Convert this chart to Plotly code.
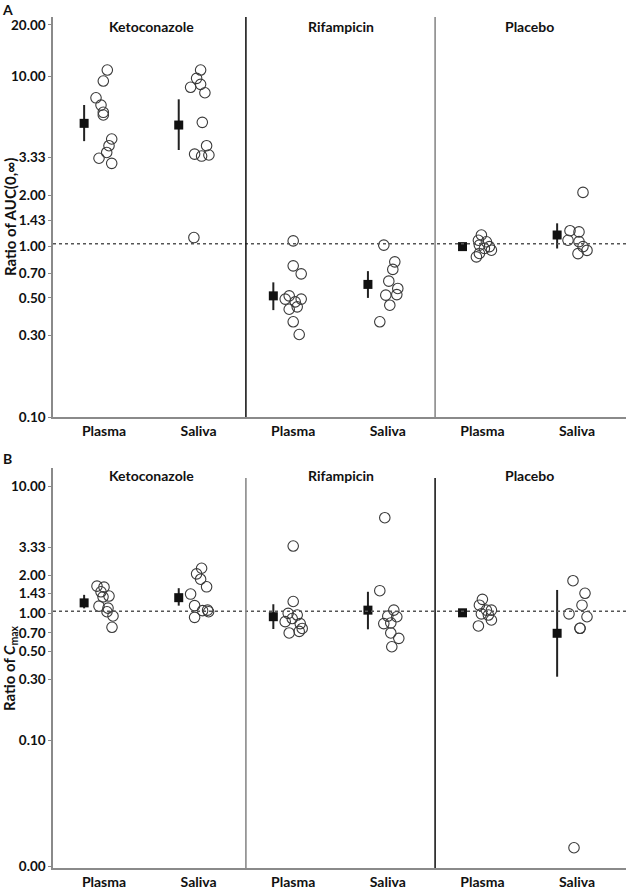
import plotly.graph_objects as go

# ---------------- data ----------------
groups = ["Ketoconazole", "Rifampicin", "Placebo"]
x_labels = ["Plasma", "Saliva", "Plasma", "Saliva", "Plasma", "Saliva"]

y_ticks_A = [0.10, 0.30, 0.50, 0.70, 1.00, 1.43, 2.00, 3.33, 10.00, 20.00]
y_ticks_B = [0.01, 0.10, 0.30, 0.50, 0.70, 1.00, 1.43, 2.00, 3.33, 10.00]
y_ticktext_B = ["0.00", "0.10", "0.30", "0.50", "0.70", "1.00", "1.43", "2.00", "3.33", "10.00"]

# Panel A: individual ratios of AUC(0,inf)
auc_keto_plasma = [10.87, 9.37, 7.47, 6.77, 6.14, 5.92, 4.28, 3.91, 3.57, 3.30, 3.08]
auc_keto_saliva = [10.87, 9.72, 8.96, 8.61, 8.0, 5.36, 3.91, 3.49, 3.40, 3.45, 1.13]
auc_rif_plasma = [1.08, 0.771, 0.692, 0.514, 0.492, 0.492, 0.474, 0.443, 0.429, 0.362, 0.305]
auc_rif_saliva = [1.02, 0.814, 0.735, 0.627, 0.568, 0.519, 0.523, 0.453, 0.362]
auc_plac_plasma = [1.17, 1.09, 1.067, 1.02, 1.0, 0.975, 0.953, 0.912, 0.87]
auc_plac_saliva = [2.08, 1.24, 1.22, 1.09, 1.07, 1.0, 0.95, 0.91]

# Panel A: geometric mean and 90% CI
auc_gm = [5.29, 5.17, 0.514, 0.60, 1.00, 1.17]
auc_lo = [4.16, 3.69, 0.424, 0.50, 0.97, 0.975]
auc_hi = [6.78, 7.32, 0.617, 0.718, 1.03, 1.37]

# Panel B: individual ratios of Cmax
cmax_keto_plasma = [1.64, 1.61, 1.48, 1.35, 1.37, 1.14, 1.10, 1.03, 0.953, 0.776]
cmax_keto_saliva = [2.27, 2.05, 1.86, 1.62, 1.42, 1.15, 1.05, 1.06, 1.03, 0.93]
cmax_rif_plasma = [3.40, 1.24, 1.0, 0.97, 0.91, 0.86, 0.83, 0.76, 0.72, 0.70]
cmax_rif_saliva = [5.69, 1.51, 1.06, 0.94, 0.95, 0.83, 0.84, 0.70, 0.635, 0.545]
cmax_plac_plasma = [1.29, 1.16, 1.06, 1.06, 0.99, 0.97, 0.886, 0.795]
cmax_plac_saliva = [1.81, 1.44, 1.16, 0.99, 0.94, 0.762, 0.762, 0.0141]

cmax_gm = [1.21, 1.33, 0.941, 1.06, 1.01, 0.696]
cmax_lo = [1.095, 1.15, 0.752, 0.748, 0.97, 0.316]
cmax_hi = [1.40, 1.58, 1.18, 1.48, 1.05, 1.53]

reference_ratio = 1.04

# horizontal jitter of individual points (pixels)
jit_auc = [
    [3.3, -0.7, -8, -3, -0.7, -0.7, 7.7, 5, 2.7, -5, 7.7],
    [2, -2, 2, -8, 6.3, 3.7, 8, -4, 3, 10.3, -4.7],
    [0, 0, 8, -4, -8, 8, 2, 4, -4, 0, 6],
    [-4, 7, 5, 1, 10, -2, 9, 2, -8],
    [-1, -4, 4, -3, 7, 2, 9, -3, -6],
    [6, -7, 2, -9, 2, 6, 10, 1],
]
jit_cmax = [
    [-7, 0, -3, -1, 5, -5, 4, 3, 9, 8],
    [3, -2, 2, 8, -8, -4, 4, 9, 10, -4],
    [0, 0, -5, 4, -1, -8, 7, 9, 6, -4],
    [-3, -8, 6, 9, 0, -4, 3, 3, 11, 4],
    [0, -3, 4, 9, -1, 6, 9, -4],
    [-4, 8, 5, -8, 10, 3, 3, -3],
]

auc_points = [auc_keto_plasma, auc_keto_saliva, auc_rif_plasma,
              auc_rif_saliva, auc_plac_plasma, auc_plac_saliva]
cmax_points = [cmax_keto_plasma, cmax_keto_saliva, cmax_rif_plasma,
               cmax_rif_saliva, cmax_plac_plasma, cmax_plac_saliva]

# ---------------- figure ----------------
W, H = 626, 891
ML, MR, MT, MB = 53, 0, 17, 23
PX_PER_CAT = 94.6
XR = [1 - 51 / PX_PER_CAT, 1 + 522 / PX_PER_CAT]
MEAN_OFF = -0.21
FONT = "Lato"

fig = go.Figure()


def add_panel(points, jit, gm, lo, hi, xa, ya):
    for i, vals in enumerate(points):
        xc = i + 1
        fig.add_trace(go.Scatter(
            x=[xc + j / PX_PER_CAT for j in jit[i]], y=vals,
            mode="markers", xaxis=xa, yaxis=ya, showlegend=False,
            marker=dict(symbol="circle-open", size=10.5, color="#3a3a3a",
                        line=dict(width=1.1, color="#3a3a3a"))))
    fig.add_trace(go.Scatter(
        x=[i + 1 + MEAN_OFF for i in range(len(gm))], y=gm,
        mode="markers", xaxis=xa, yaxis=ya, showlegend=False,
        marker=dict(symbol="square", size=9, color="#111"),
        error_y=dict(type="data", symmetric=False,
                     array=[h - g for h, g in zip(hi, gm)],
                     arrayminus=[g - l for g, l in zip(gm, lo)],
                     thickness=2, width=0, color="#222")))
    fig.add_trace(go.Scatter(
        x=XR, y=[reference_ratio, reference_ratio], mode="lines",
        xaxis=xa, yaxis=ya, showlegend=False,
        line=dict(color="#555", width=1.5, dash="3px,3px")))


add_panel(auc_points, jit_auc, auc_gm, auc_lo, auc_hi, "x", "y")
add_panel(cmax_points, jit_cmax, cmax_gm, cmax_lo, cmax_hi, "x2", "y2")

plot_h = H - MT - MB
dom_A = [(H - MB - 417) / plot_h, 1.0]
dom_B = [0.0, (H - MB - 468) / plot_h]

tickfont = dict(family=FONT, size=13.5, color="#111", weight="bold")
xaxis_common = dict(range=XR, tickvals=[1, 2, 3, 4, 5, 6], ticktext=x_labels,
                    showline=True, linecolor="#8a8a8a", linewidth=1.5,
                    ticks="", showgrid=False, zeroline=False,
                    tickfont=dict(family=FONT, size=14, color="#111", weight="bold"),
                    automargin=False)
yaxis_common = dict(type="log", showline=True, linecolor="#8a8a8a", linewidth=1.5,
                    ticks="outside", ticklen=3, tickcolor="#8a8a8a",
                    showgrid=False, zeroline=False, tickfont=tickfont,
                    automargin=False)

fig.update_layout(
    width=W, height=H, margin=dict(l=ML, r=MR, t=MT, b=MB),
    paper_bgcolor="white", plot_bgcolor="white",
    xaxis=dict(xaxis_common, domain=[0, 1], anchor="y"),
    yaxis=dict(yaxis_common, domain=dom_A, anchor="x", range=[-1, 1.3476],
               tickvals=y_ticks_A, ticktext=[f"{v:.2f}" for v in y_ticks_A]),
    xaxis2=dict(xaxis_common, domain=[0, 1], anchor="y2"),
    yaxis2=dict(yaxis_common, domain=dom_B, anchor="x2", range=[-2.0107, 1.1477],
                tickvals=y_ticks_B, ticktext=y_ticktext_B),
)

# panel dividers
div_colors = {"A": ["#1a1a1a", "#8a8a8a"], "B": ["#8a8a8a", "#1a1a1a"]}
for panel, yref, ytop in [("A", "y domain", 1.0), ("B", "y2 domain", (868 - 478) / 400)]:
    xref = "x" if panel == "A" else "x2"
    for k, xd in enumerate([2.5, 4.5]):
        fig.add_shape(type="line", xref=xref, yref=yref, x0=xd, x1=xd, y0=0, y1=ytop,
                      line=dict(color=div_colors[panel][k], width=1.6))


def py(ypx):
    return (H - MB - ypx) / plot_h


def px(xpx):
    return (xpx - ML) / (W - ML - MR)


# group titles
for panel, ypx, xref in [("A", 26, "x"), ("B", 475, "x2")]:
    for g, name in enumerate(groups):
        fig.add_annotation(x=2 * g + 1.5, y=py(ypx), xref=xref, yref="paper",
                           text=name, showarrow=False, xanchor="center", yanchor="middle",
                           font=dict(family=FONT, size=14, color="#111", weight="bold"))

# panel letters
for letter, ypx in [("A", 10), ("B", 459)]:
    fig.add_annotation(x=px(7), y=py(ypx), xref="paper", yref="paper",
                       text=letter, showarrow=False, xanchor="center", yanchor="middle",
                       font=dict(family=FONT, size=14, color="#111", weight="bold"))

# y-axis titles
for text, ypx in [("Ratio of AUC(0,∞)", 217), ("Ratio of <i>C</i><sub>max</sub>", 668)]:
    fig.add_annotation(x=px(10), y=py(ypx), xref="paper", yref="paper",
                       text=text, showarrow=False, textangle=-90,
                       xanchor="center", yanchor="middle",
                       font=dict(family=FONT, size=15, color="#111", weight="bold"))

fig.write_html("out.html", config={"displayModeBar": False},
               post_script="document.body.style.margin='0';")
